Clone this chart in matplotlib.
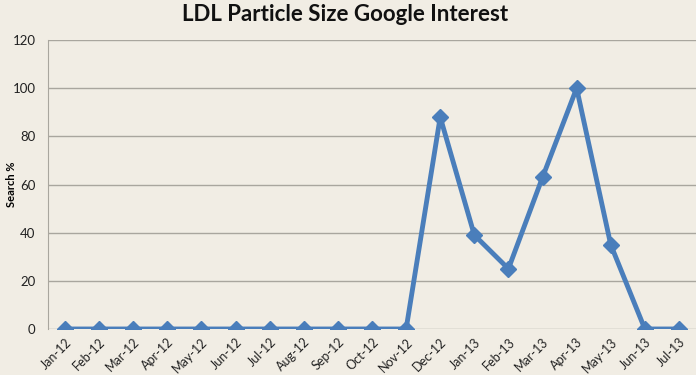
import matplotlib.pyplot as plt

months = ["Jan-12", "Feb-12", "Mar-12", "Apr-12", "May-12", "Jun-12", "Jul-12",
          "Aug-12", "Sep-12", "Oct-12", "Nov-12", "Dec-12", "Jan-13", "Feb-13",
          "Mar-13", "Apr-13", "May-13", "Jun-13", "Jul-13"]
search = [0, 0, 0, 0, 0, 0, 0, 0, 0, 0, 0, 88, 39, 25, 63, 100, 35, 0, 0]
yticks = [0, 20, 40, 60, 80, 100, 120]

bg = "#F1EDE4"
plt.rcParams['font.family'] = ['Lato', 'DejaVu Sans']

fig = plt.figure(figsize=(6.96, 3.75), dpi=100, facecolor=bg)
ax = fig.add_axes([0.069, 0.1227, 0.931, 0.7706], facecolor=bg)

x = range(len(months))
ax.plot(x, search, color="#4A7EBB", linewidth=3.5, marker="D", markersize=8, zorder=3)

ax.set_xlim(-0.5, len(months) - 0.5)
ax.set_ylim(0, 120)
ax.set_yticks(yticks)
ax.set_xticks(list(x))
ax.set_xticklabels(months, rotation=45, ha="right", rotation_mode="anchor", fontsize=9, color="#222222")
ax.tick_params(axis="y", labelsize=9.5, colors="#222222", length=0, pad=9)
ax.tick_params(axis="x", length=0, pad=5)
ax.yaxis.grid(True, color="#A9A69E", linewidth=1)
ax.set_axisbelow(True)
for s in ["top", "right", "bottom"]:
    ax.spines[s].set_visible(False)
ax.spines["left"].set_color("#A9A69E")

ax.set_ylabel("Search %", fontsize=8, fontweight="bold")
ax.yaxis.set_label_coords(-0.048, 0.5)
fig.text(0.496, 0.962, "LDL Particle Size Google Interest", ha="center", va="center",
         fontsize=16, fontweight="bold", color="#111111")

fig.savefig("out.png", dpi=100, facecolor=bg)
